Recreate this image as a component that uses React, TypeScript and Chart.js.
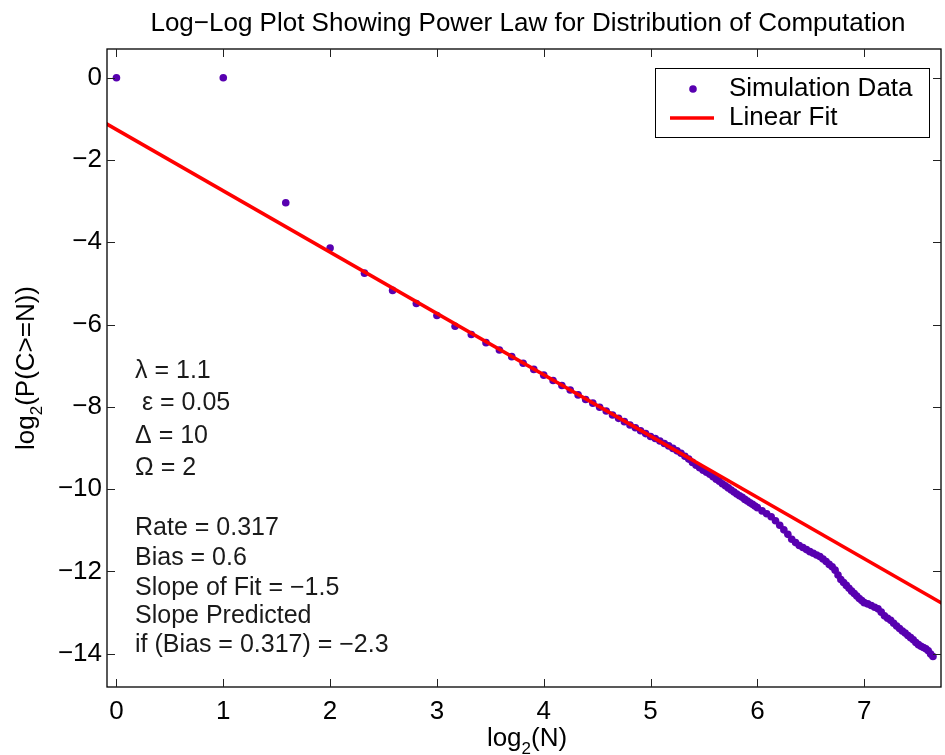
import React, { useEffect, useRef } from "react";
import { Chart, registerables } from "chart.js";

Chart.register(...registerables);

// N values (number of computations) — the x position is log2(N)
const nValues = [
  1, 2, 3, 4, 5, 6, 7, 8, 9, 10, 11, 12, 13, 14, 15, 16, 17, 18, 19, 20,
  21, 22, 23, 24, 25, 26, 27, 28, 29, 30, 31, 32, 33, 34, 35, 36, 37, 38, 39, 40,
  41, 42, 43, 44, 45, 46, 47, 48, 49, 50, 51, 52, 53, 54, 55, 56, 57, 58, 59, 60,
  61, 62, 63, 64,
  66, 68, 70, 72, 74, 76, 78, 80, 82, 84, 86, 88, 90, 92, 94, 96, 98, 100,
  102, 104, 106, 108, 110, 112, 114, 116, 118, 120, 122, 124, 126, 128,
  131, 134, 137, 140, 143, 146, 149, 152, 155, 158, 161, 164, 167, 170, 173, 176,
  179, 182, 185, 188, 191, 194, 197, 200,
];

// log2(P(C >= N))
const log2P = [
  0, 0, -3.04, -4.14, -4.75, -5.17, -5.49, -5.78, -6.04, -6.24, -6.44, -6.62, -6.78, -6.94, -7.09, -7.23, -7.36, -7.48, -7.59, -7.71,
  -7.82, -7.91, -8.01, -8.10, -8.20, -8.28, -8.36, -8.44, -8.51, -8.58, -8.65, -8.72, -8.77, -8.83, -8.89, -8.95, -9.01, -9.07, -9.13, -9.20,
  -9.27, -9.35, -9.42, -9.48, -9.54, -9.59, -9.64, -9.70, -9.76, -9.81, -9.87, -9.92, -9.97, -10.02, -10.07, -10.12, -10.16, -10.20, -10.25, -10.29,
  -10.33, -10.37, -10.41, -10.45,
  -10.53, -10.60, -10.67, -10.77, -10.88, -10.99, -11.10, -11.22, -11.30, -11.37, -11.42, -11.47, -11.52, -11.56, -11.60, -11.64, -11.70, -11.76,
  -11.83, -11.89, -11.97, -12.09, -12.20, -12.27, -12.34, -12.41, -12.48, -12.54, -12.60, -12.66, -12.71, -12.76,
  -12.79, -12.83, -12.87, -12.91, -12.99, -13.08, -13.14, -13.19, -13.26, -13.33, -13.39, -13.45, -13.50, -13.56, -13.61, -13.66,
  -13.73, -13.78, -13.82, -13.85, -13.88, -13.93, -14.01, -14.07,
];

// Linear fit endpoints (slope about -1.49)
const fitX = [-0.2, 7.9];
const fitY = [-0.962, -13.031];

const xTicks = [0, 1, 2, 3, 4, 5, 6, 7];
const yTicks = [-14, -12, -10, -8, -6, -4, -2, 0];

const titleText = "Log\u2212Log Plot Showing Power Law for Distribution of Computation";
const legendLabels = ["Simulation Data", "Linear Fit"];
const noteLines = [
  "\u03bb = 1.1",
  " \u03b5 = 0.05",
  "\u0394 = 10",
  "\u03a9 = 2",
  "Rate = 0.317",
  "Bias = 0.6",
  "Slope of Fit = \u22121.5",
  "Slope Predicted",
  "if (Bias = 0.317) = \u22122.3",
];

const FONT = "'Liberation Sans', Arial, Helvetica, sans-serif";
const DOT = "rgb(88,0,176)";
const RED = "#ff0000";

const fmt = (v: number) => (v < 0 ? "\u2212" + Math.abs(v) : String(v));

const extrasPlugin = {
  id: "extras",
  afterDraw(chart: any) {
    const ctx = chart.ctx as CanvasRenderingContext2D;
    const a = chart.chartArea;
    const xs = chart.scales.x;
    const ys = chart.scales.y;
    ctx.save();

    // axes box and inward ticks
    ctx.strokeStyle = "#000";
    ctx.lineWidth = 1.3;
    ctx.strokeRect(a.left, a.top, a.right - a.left, a.bottom - a.top);
    ctx.lineWidth = 1;
    ctx.strokeStyle = "#222";
    const tl = 8;
    ctx.beginPath();
    xTicks.forEach((v) => {
      const px = Math.round(xs.getPixelForValue(v)) + 0.5;
      ctx.moveTo(px, a.bottom);
      ctx.lineTo(px, a.bottom - tl);
      ctx.moveTo(px, a.top);
      ctx.lineTo(px, a.top + tl);
    });
    yTicks.forEach((v) => {
      const py = Math.round(ys.getPixelForValue(v)) + 0.5;
      ctx.moveTo(a.left, py);
      ctx.lineTo(a.left + tl, py);
      ctx.moveTo(a.right, py);
      ctx.lineTo(a.right - tl, py);
    });
    ctx.stroke();

    // title
    ctx.fillStyle = "#000";
    ctx.font = `26px ${FONT}`;
    ctx.textAlign = "center";
    ctx.textBaseline = "alphabetic";
    ctx.fillText(titleText, 528, 31);

    // x-axis title: log2(N)
    const big = `26px ${FONT}`;
    const small = `17px ${FONT}`;
    ctx.textAlign = "left";
    const drawSub = (pre: string, sub: string, post: string, cx: number, base: number) => {
      ctx.font = big;
      const w1 = ctx.measureText(pre).width;
      const w3 = ctx.measureText(post).width;
      ctx.font = small;
      const w2 = ctx.measureText(sub).width;
      let x = cx - (w1 + w2 + w3) / 2;
      ctx.font = big;
      ctx.fillText(pre, x, base);
      x += w1;
      ctx.font = small;
      ctx.fillText(sub, x, base + 8);
      x += w2;
      ctx.font = big;
      ctx.fillText(post, x, base);
    };
    drawSub("log", "2", "(N)", 527, 746);

    // y-axis title
    ctx.save();
    ctx.translate(34, 368);
    ctx.rotate(-Math.PI / 2);
    drawSub("log", "2", "(P(C>=N))", 0, 0);
    ctx.restore();

    // legend
    const lx = 655, ly = 68, lw = 274, lh = 69;
    ctx.fillStyle = "#fff";
    ctx.fillRect(lx, ly, lw, lh);
    ctx.strokeStyle = "#000";
    ctx.lineWidth = 1;
    ctx.strokeRect(lx + 0.5, ly + 0.5, lw, lh);
    ctx.fillStyle = DOT;
    ctx.beginPath();
    ctx.arc(693, 89, 3.8, 0, Math.PI * 2);
    ctx.fill();
    ctx.strokeStyle = RED;
    ctx.lineWidth = 3.5;
    ctx.beginPath();
    ctx.moveTo(670, 118);
    ctx.lineTo(714, 118);
    ctx.stroke();
    ctx.fillStyle = "#000";
    ctx.font = big;
    ctx.textBaseline = "middle";
    ctx.fillText(legendLabels[0], 729, 89);
    ctx.fillText(legendLabels[1], 729, 118);

    // annotation text
    const noteY = [371.5, 403.5, 436.5, 468, 528, 558, 588, 616.5, 645];
    ctx.fillStyle = "#1a1a1a";
    ctx.font = `25px ${FONT}`;
    noteLines.forEach((t, i) => ctx.fillText(t, 135, noteY[i]));

    ctx.restore();
  },
};

export default function App() {
  const ref = useRef<HTMLCanvasElement | null>(null);
  useEffect(() => {
    document.body.style.margin = "0";
    const canvas = ref.current;
    if (!canvas) return;
    const points = nValues.map((n, i) => ({ x: Math.log2(n), y: log2P[i] }));
    const fit = fitX.map((x, i) => ({ x, y: fitY[i] }));
    const chart = new Chart(canvas, {
      type: "scatter",
      data: {
        datasets: [
          {
            type: "line",
            label: legendLabels[1],
            data: fit,
            borderColor: RED,
            borderWidth: 3.5,
            pointRadius: 0,
            fill: false,
            order: 0,
          } as any,
          {
            label: legendLabels[0],
            data: points,
            backgroundColor: DOT,
            borderColor: DOT,
            borderWidth: 0,
            pointRadius: 3.8,
            order: 1,
          },
        ],
      },
      options: {
        responsive: false,
        animation: false,
        devicePixelRatio: 1,
        layout: { padding: { left: 0, top: 49, right: 1, bottom: 0 } },
        plugins: {
          legend: { display: false },
          title: { display: false },
          tooltip: { enabled: false },
        },
        scales: {
          x: {
            type: "linear",
            min: -0.0886,
            max: 7.719,
            grid: { display: false, drawTicks: false },
            border: { display: false },
            afterBuildTicks: (s: any) => {
              s.ticks = xTicks.map((v) => ({ value: v }));
            },
            afterFit: (s: any) => {
              s.height = 68;
            },
            ticks: {
              font: { family: FONT, size: 26 },
              color: "#000",
              padding: 9,
              maxRotation: 0,
              autoSkip: false,
              callback: (v: any) => fmt(Number(v)),
            },
          },
          y: {
            type: "linear",
            min: -14.81,
            max: 0.698,
            grid: { display: false, drawTicks: false },
            border: { display: false },
            afterBuildTicks: (s: any) => {
              s.ticks = yTicks.map((v) => ({ value: v }));
            },
            afterFit: (s: any) => {
              s.width = 107;
            },
            ticks: {
              font: { family: FONT, size: 26 },
              color: "#000",
              padding: 5,
              autoSkip: false,
              callback: (v: any) => fmt(Number(v)),
            },
          },
        },
      },
      plugins: [extrasPlugin],
    });
    return () => chart.destroy();
  }, []);
  return <canvas ref={ref} width={945} height={755} style={{ display: "block" }} />;
}
